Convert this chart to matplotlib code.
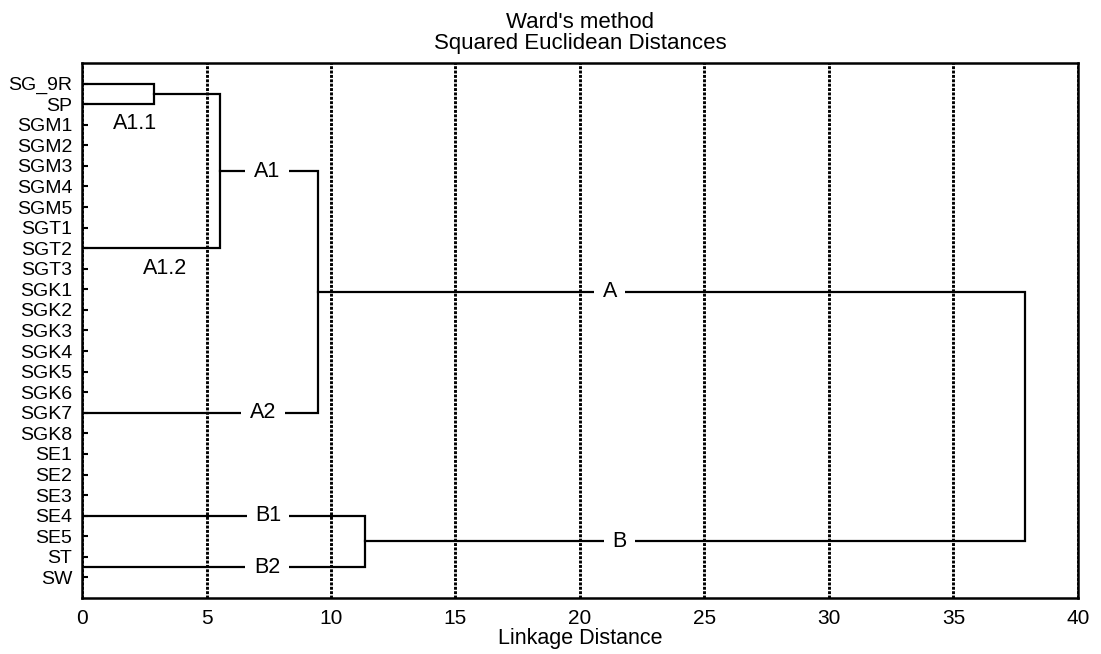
"""Ward's method dendrogram (squared Euclidean distances)."""

import matplotlib

matplotlib.use("Agg")
import matplotlib.pyplot as plt

plt.rcParams["font.family"] = ["Liberation Sans", "DejaVu Sans"]

# Leaves, top to bottom
leaves = [
    "SG_9R", "SP", "SGM1", "SGM2", "SGM3", "SGM4", "SGM5", "SGT1", "SGT2",
    "SGT3", "SGK1", "SGK2", "SGK3", "SGK4", "SGK5", "SGK6", "SGK7", "SGK8",
    "SE1", "SE2", "SE3", "SE4", "SE5", "ST", "SW",
]

# Links: upper child (row, distance), lower child (row, distance), merge distance
link_top_row = [0, 0.5, 4.25, 21, 10.125]
link_top_x = [0, 2.9, 5.55, 0, 9.48]
link_bot_row = [1, 8, 16, 23.5, 22.25]
link_bot_x = [0, 0, 0, 0, 11.37]
link_height = [2.9, 5.55, 9.48, 11.37, 37.87]

# Cluster labels
cluster_names = ["A1.1", "A1.2", "A1", "A2", "B1", "B2", "A", "B"]
cluster_x = [2.13, 3.33, 7.43, 7.27, 7.47, 7.43, 21.2, 21.6]
cluster_row = [1.95, 9.0, 4.25, 16, 21, 23.5, 10.125, 22.25]
cluster_boxed = [False, False, True, True, True, True, True, True]

xticks = [0, 5, 10, 15, 20, 25, 30, 35, 40]

fig = plt.figure(figsize=(11.01, 6.54), dpi=100)
ax = fig.add_axes([0.0745, 0.0856, 0.9045, 0.8181])

for tr, tx, br, bx, h in zip(link_top_row, link_top_x, link_bot_row,
                             link_bot_x, link_height):
    ax.plot([tx, h, h, bx], [tr, tr, br, br], color="black", lw=1.6,
            solid_joinstyle="miter", zorder=3)

for name, x, r, boxed in zip(cluster_names, cluster_x, cluster_row,
                             cluster_boxed):
    kw = {}
    if boxed:
        kw["bbox"] = dict(facecolor="white", edgecolor="none", pad=6)
    ax.text(x, r, name, ha="center", va="center", fontsize=15.5, zorder=4,
            **kw)

ax.set_xlim(0, 40)
ax.set_ylim(25, -1)
ax.set_xticks(xticks)
ax.set_yticks(range(len(leaves)))
ax.set_yticklabels(leaves, fontsize=14)
ax.set_xticklabels([str(t) for t in xticks], fontsize=15)
ax.tick_params(axis="y", direction="in", length=4, width=1.5, pad=7)
ax.tick_params(axis="x", direction="in", length=0, pad=8)
ax.grid(axis="x", linestyle=(0, (1, 0.5)), color="black", lw=2.1)
ax.set_axisbelow(True)
for s in ax.spines.values():
    s.set_linewidth(1.8)

ax.set_xlabel("Linkage Distance", fontsize=15.5, labelpad=0)
ax.set_title("Ward's method\nSquared Euclidean Distances", fontsize=16,
             linespacing=1.0, pad=10)

fig.savefig("out.png", dpi=100)
